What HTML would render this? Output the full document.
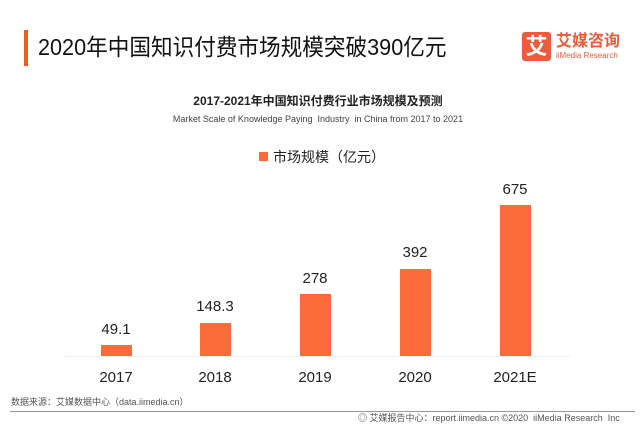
<!DOCTYPE html>
<html><head><meta charset="utf-8"><style>
body{margin:0;width:640px;height:438px;background:#fff;position:relative;overflow:hidden;font-family:"Liberation Sans","Noto Sans CJK SC",sans-serif;color:#222}
div{position:absolute;white-space:nowrap}
.bar{background:#fd6a3c;width:31px}
.v{font-size:15px;width:80px;text-align:center;line-height:18px;color:#222}
.y{font-size:15px;width:80px;text-align:center;line-height:18px;top:369px;color:#222}
</style></head><body>
<div style="left:24px;top:30px;width:4px;height:36px;background:#f05a28"></div>
<div style="left:38px;top:33px;font-size:23px;line-height:28px;color:#111;transform:scaleX(0.94);transform-origin:0 0">2020年中国知识付费市场规模突破390亿元</div>
<div style="left:522px;top:32px;width:29px;height:29px;background:#ef5a3a;border-radius:3px;color:#fff;font-size:22px;line-height:29px;text-align:center;font-weight:bold">艾</div>
<div style="left:556px;top:33px;font-size:16px;line-height:18px;color:#ef5a3a;font-weight:bold">艾媒咨询</div>
<div style="left:556px;top:51px;font-size:8px;line-height:10px;color:#ef5a3a">iiMedia Research</div>
<div style="left:0;width:636px;top:93px;text-align:center;font-size:12px;font-weight:bold;line-height:16px">2017-2021年中国知识付费行业市场规模及预测</div>
<div style="left:0;width:636px;top:113px;text-align:center;font-size:9px;line-height:12px;color:#444">Market Scale of Knowledge Paying&nbsp; Industry&nbsp; in China from 2017 to 2021</div>
<div style="left:259px;top:152px;width:9px;height:9px;background:#fd6a3c"></div>
<div style="left:273px;top:148px;font-size:14px;line-height:18px">市场规模（亿元）</div>
<div style="left:65px;top:356px;width:505px;height:1px;background:#eee"></div>
<div class="bar" style="left:101px;top:345px;height:11px"></div>
<div class="bar" style="left:200px;top:323px;height:33px"></div>
<div class="bar" style="left:300px;top:294px;height:62px"></div>
<div class="bar" style="left:400px;top:269px;height:87px"></div>
<div class="bar" style="left:500px;top:205px;height:151px"></div>
<div class="v" style="left:76px;top:321px">49.1</div>
<div class="v" style="left:175px;top:298px">148.3</div>
<div class="v" style="left:275px;top:270px">278</div>
<div class="v" style="left:375px;top:244px">392</div>
<div class="v" style="left:475px;top:181px">675</div>
<div class="y" style="left:76px">2017</div>
<div class="y" style="left:175px">2018</div>
<div class="y" style="left:275px">2019</div>
<div class="y" style="left:375px">2020</div>
<div class="y" style="left:475px">2021E</div>
<div style="left:11px;top:396px;font-size:9px;line-height:12px;color:#555">数据来源：艾媒数据中心（data.iimedia.cn）</div>
<div style="left:10px;top:411px;width:625px;height:1px;background:#999"></div>
<div style="left:358px;top:412px;font-size:9px;line-height:12px;color:#555">◎ 艾媒报告中心：report.iimedia.cn ©2020&nbsp; iiMedia Research&nbsp; Inc</div>
</body></html>
